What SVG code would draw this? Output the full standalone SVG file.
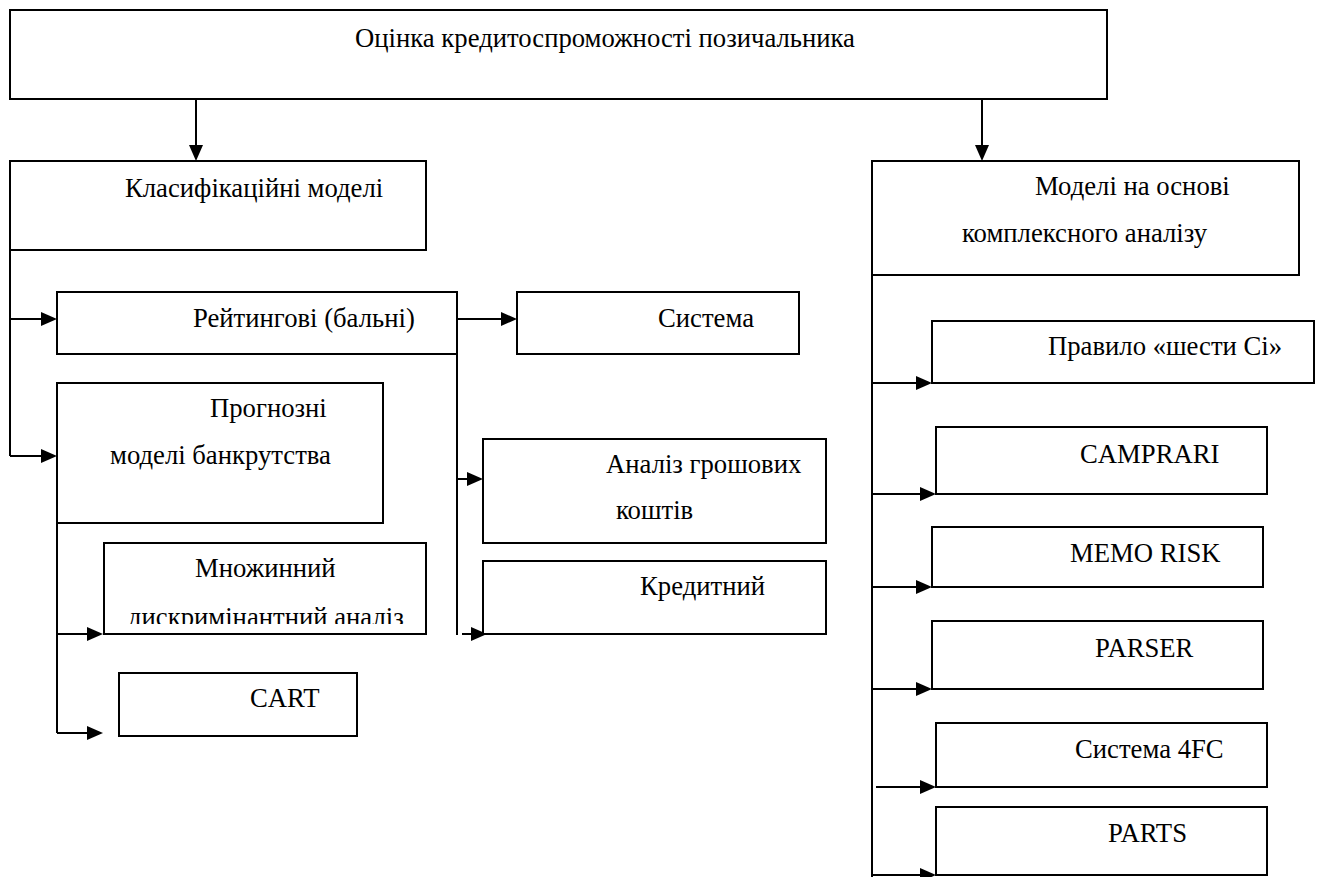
<svg xmlns="http://www.w3.org/2000/svg" width="1323" height="877" viewBox="0 0 1323 877">
<style>
.box{fill:#fff;stroke:#000;stroke-width:2}
.ln{fill:none;stroke:#000;stroke-width:2}
.arr{fill:none;stroke:#000;stroke-width:2;marker-end:url(#ah)}
text{font-family:"Liberation Serif","Times New Roman",serif;font-size:26.7px;fill:#000}
</style>
<defs>
<marker id="ah" viewBox="0 0 16 14" refX="10" refY="7" markerWidth="16" markerHeight="14" markerUnits="userSpaceOnUse" orient="auto">
<path d="M0,0 L16,7 L0,14 Z" fill="#000"/>
</marker>
<clipPath id="clipM"><rect x="100" y="540" width="330" height="84"/></clipPath>
</defs>
<rect width="1323" height="877" fill="#fff"/>
<g id="connectors">
<path class="arr" d="M196,99 V155"/>
<path class="arr" d="M982,99 V155"/>
<path class="ln" d="M10,250 V456"/>
<path class="arr" d="M10,319 H51"/>
<path class="arr" d="M10,456 H51"/>
<path class="arr" d="M457,319 H511"/>
<path class="ln" d="M457,354 V635"/>
<path class="arr" d="M457,479 H477"/>
<path class="arr" d="M462,634 H481"/>
<path class="ln" d="M57,523 V733"/>
<path class="arr" d="M57,634 H97"/>
<path class="arr" d="M57,733 H97"/>
<path class="ln" d="M872,275 V877"/>
<path class="arr" d="M872,383 H926"/>
<path class="arr" d="M872,494 H930"/>
<path class="arr" d="M872,587 H926"/>
<path class="arr" d="M872,689 H926"/>
<path class="arr" d="M876,787 H930"/>
<path class="arr" d="M872,875 H930"/>
</g>
<g id="n-root"><rect class="box" x="10" y="10" width="1097" height="89"/><text x="355" y="47">Оцінка кредитоспроможності позичальника</text></g>
<g id="n-class"><rect class="box" x="10" y="161" width="416" height="89"/><text x="125" y="197">Класифікаційні моделі</text></g>
<g id="n-complex"><rect class="box" x="872" y="161" width="427" height="114"/><text x="1035" y="195">Моделі на основі</text><text x="962" y="242">комплексного аналізу</text></g>
<g id="n-rating"><rect class="box" x="57" y="292" width="400" height="62"/><text x="193" y="327">Рейтингові (бальні)</text></g>
<g id="n-system"><rect class="box" x="517" y="292" width="282" height="62"/><text x="658" y="327">Система</text></g>
<g id="n-bankrupt"><rect class="box" x="57" y="383" width="326" height="140"/><text x="210" y="417">Прогнозні</text><text x="110" y="464">моделі банкрутства</text></g>
<g id="n-cash"><rect class="box" x="483" y="439" width="343" height="104"/><text x="606" y="473">Аналіз грошових</text><text x="616" y="519">коштів</text></g>
<g id="n-credit"><rect class="box" x="483" y="561" width="343" height="73"/><text x="640" y="595">Кредитний</text></g>
<g id="n-mda"><rect class="box" x="104" y="543" width="322" height="91"/><text x="195" y="577">Множинний</text><text x="128" y="626" clip-path="url(#clipM)">дискримінантний аналіз</text></g>
<g id="n-cart"><rect class="box" x="119" y="673" width="238" height="63"/><text x="250" y="707">CART</text></g>
<g id="n-6c"><rect class="box" x="932" y="321" width="382" height="62"/><text x="1048" y="355">Правило «шести Сі»</text></g>
<g id="n-camprari"><rect class="box" x="936" y="427" width="331" height="67"/><text x="1080" y="463">CAMPRARI</text></g>
<g id="n-memo"><rect class="box" x="932" y="527" width="331" height="60"/><text x="1070" y="562">MEMO RISK</text></g>
<g id="n-parser"><rect class="box" x="932" y="621" width="331" height="68"/><text x="1095" y="657">PARSER</text></g>
<g id="n-4fc"><rect class="box" x="936" y="723" width="331" height="64"/><text x="1075" y="758">Система 4FC</text></g>
<g id="n-parts"><rect class="box" x="936" y="807" width="331" height="68"/><text x="1108" y="842">PARTS</text></g>
</svg>
